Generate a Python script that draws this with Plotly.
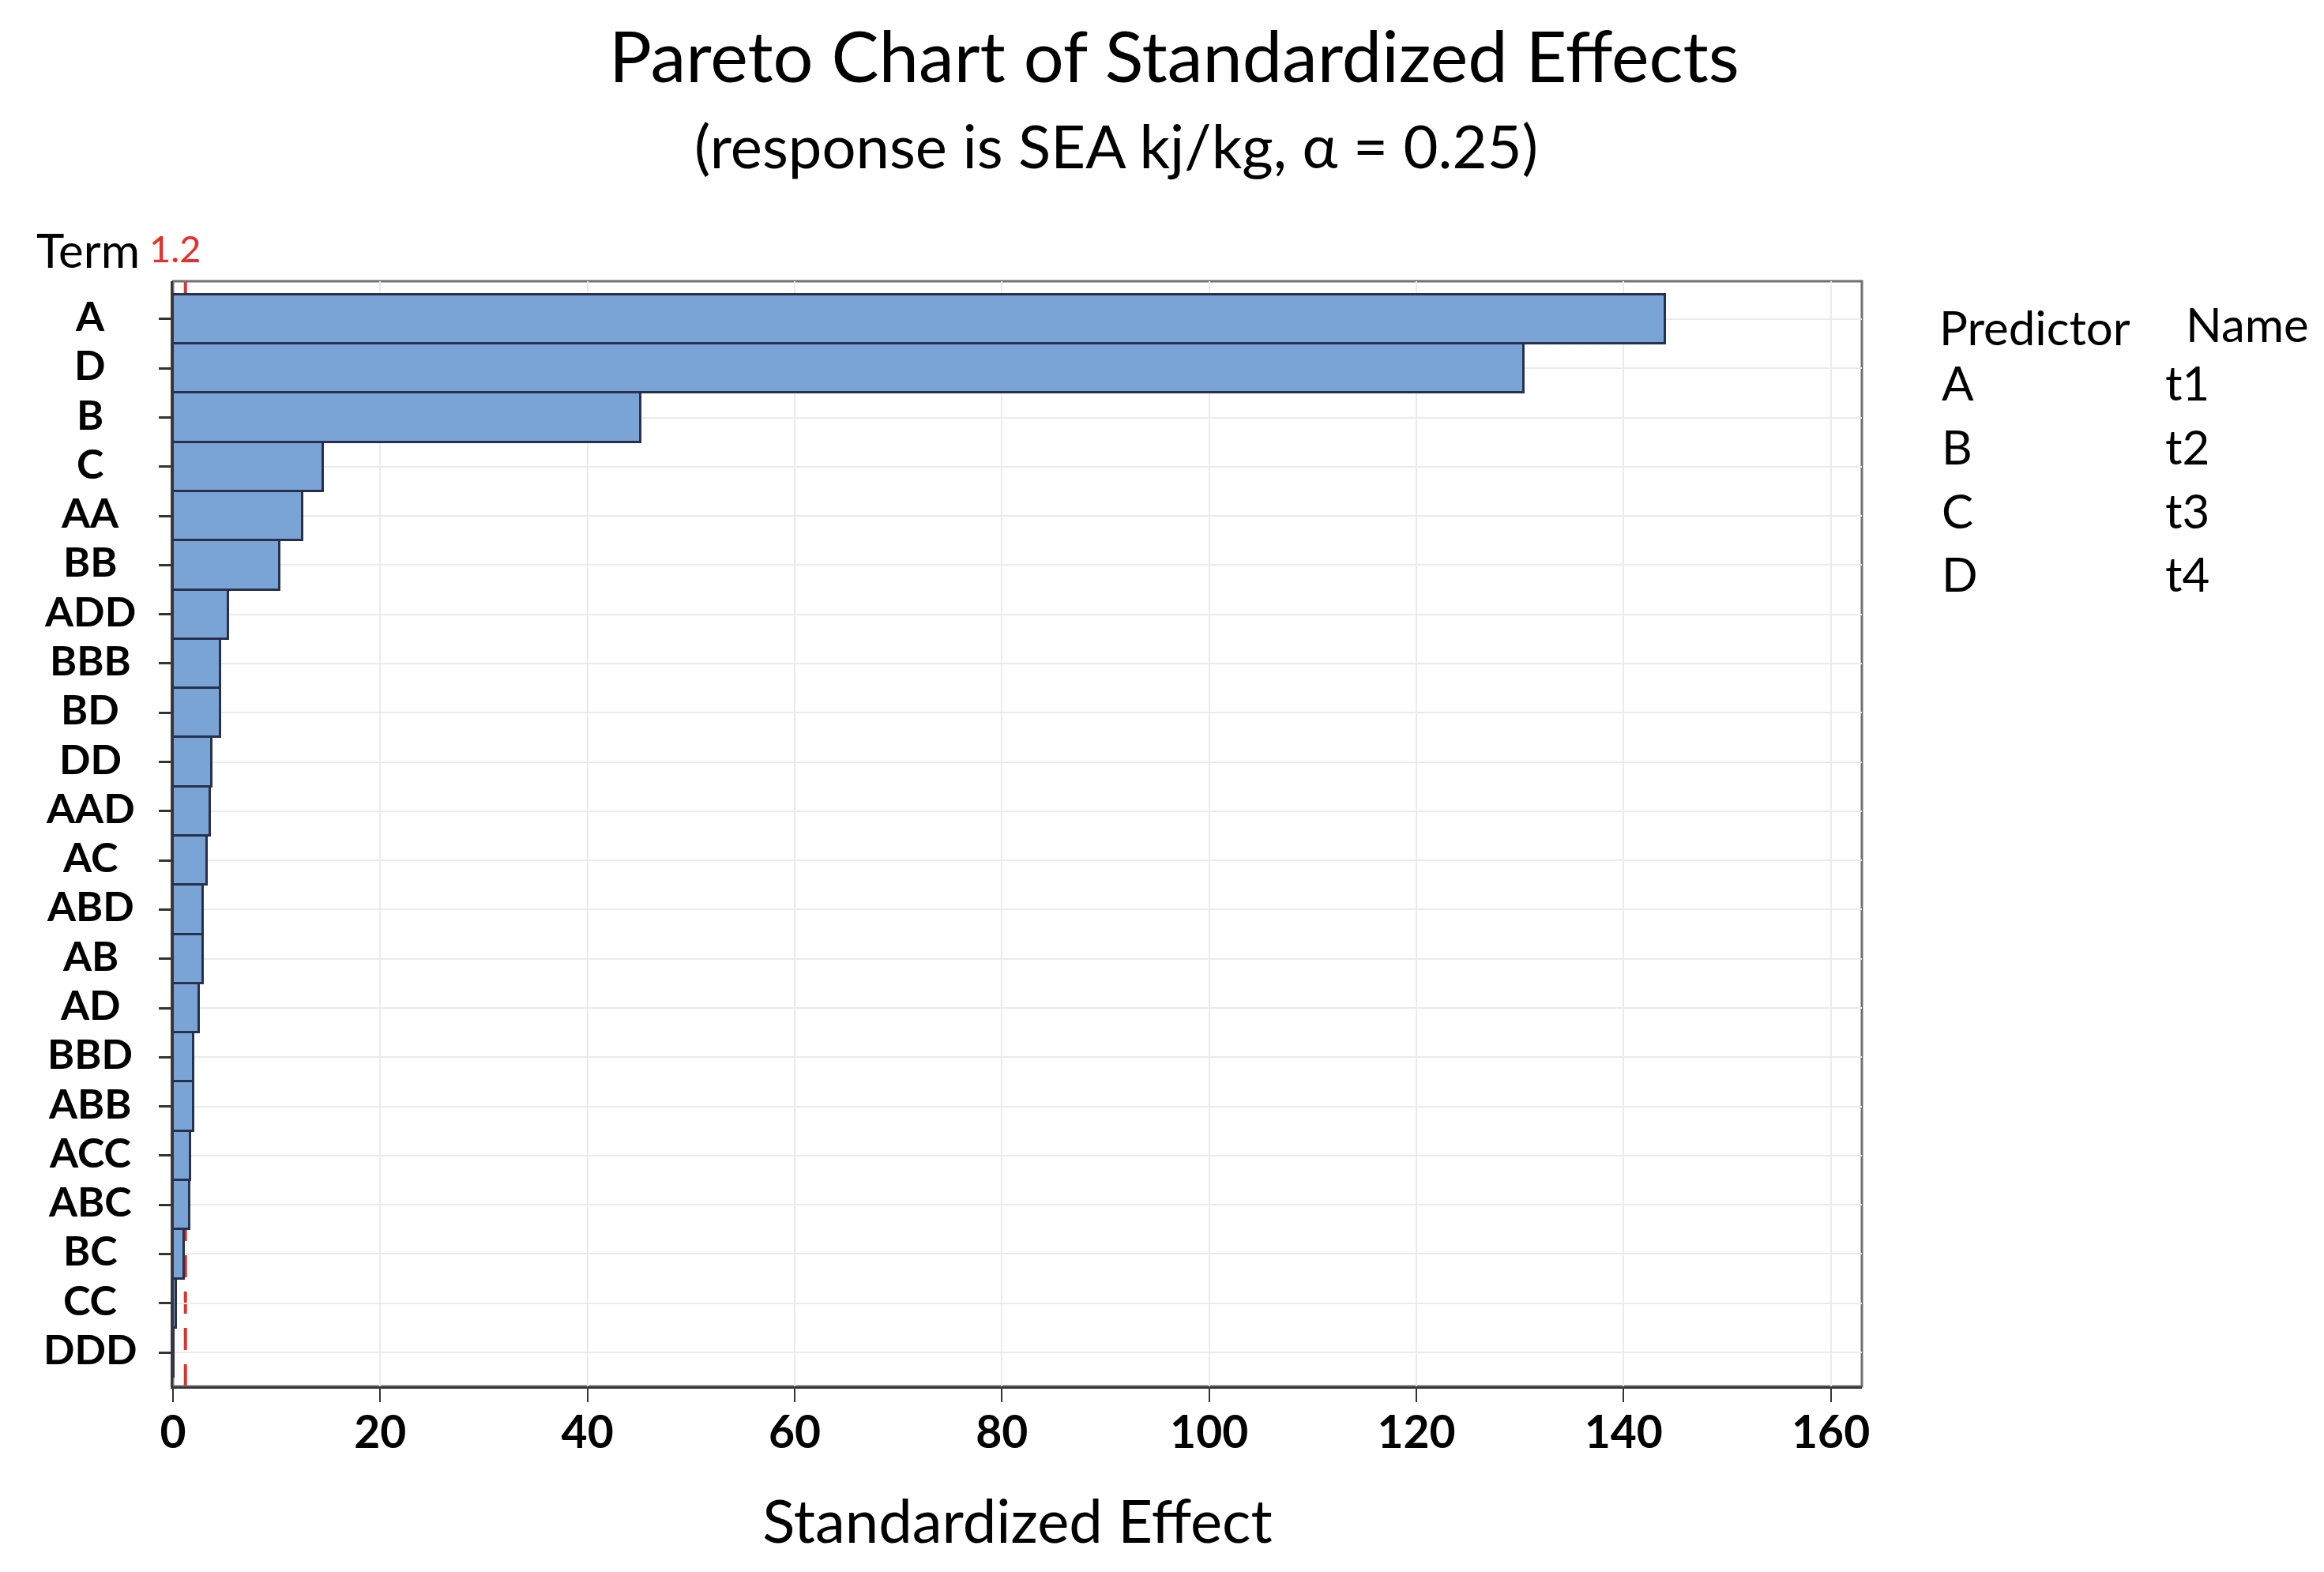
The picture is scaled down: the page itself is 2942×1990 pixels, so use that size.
import plotly.graph_objects as go

terms = ["A", "D", "B", "C", "AA", "BB", "ADD", "BBB", "BD", "DD", "AAD", "AC",
         "ABD", "AB", "AD", "BBD", "ABB", "ACC", "ABC", "BC", "CC", "DDD"]
effects = [144.0, 130.4, 45.1, 14.5, 12.5, 10.3, 5.3, 4.6, 4.6, 3.7, 3.6, 3.3,
           2.9, 2.9, 2.5, 2.0, 2.0, 1.7, 1.6, 1.1, 0.3, 0.1]
ref_value = 1.2
x_ticks = [0, 20, 40, 60, 80, 100, 120, 140, 160]
predictors = ["A", "B", "C", "D"]
names = ["t1", "t2", "t3", "t4"]

W, H = 2942, 1990
L, R, T, B = 211, 2349, 348, 1747
FONT = "Lato"


def px(x):
    return (x - L) / (R - L)


def py(y):
    return (B - y) / (B - T)


fig = go.Figure()
fig.add_trace(go.Bar(
    x=effects, y=terms, orientation="h",
    marker=dict(color="#7ba4d6", line=dict(color="#27314b", width=3)),
    showlegend=False,
))

# reference line at the critical value (drawn behind the bars)
fig.add_shape(type="line", xref="x", yref="paper", x0=ref_value, x1=ref_value,
              y0=0, y1=1, layer="between",
              line=dict(color="#e3302b", width=4, dash="28px,18px"))
# grey frame (top/right), left/bottom axis lines are drawn darker on top
fig.add_shape(type="rect", xref="paper", yref="paper", x0=0, x1=1, y0=0, y1=1,
              layer="between", line=dict(color="#707070", width=3))

annotations = []
# centered term labels
for t in terms:
    annotations.append(dict(x=px(106), xref="paper", y=t, yref="y", text=t, yshift=5,
                            showarrow=False, xanchor="center", yanchor="middle",
                            font=dict(family=FONT, size=52, color="black", weight="bold")))

annotations += [
    dict(x=px(1478), y=py(61), xref="paper", yref="paper", text="Pareto Chart of Standardized Effects",
         showarrow=False, xanchor="center", yanchor="middle", font=dict(family=FONT, size=90, color="black")),
    dict(x=px(1405), y=py(175), xref="paper", yref="paper", text="(response is SEA kj/kg, α = 0.25)",
         showarrow=False, xanchor="center", yanchor="middle", font=dict(family=FONT, size=76, color="black")),
    dict(x=px(36), y=py(308), xref="paper", yref="paper", text="Term",
         showarrow=False, xanchor="left", yanchor="middle", font=dict(family=FONT, size=60, color="black")),
    dict(x=ref_value, y=py(306), xref="x", yref="paper", text=str(ref_value), xshift=-13,
         showarrow=False, xanchor="center", yanchor="middle", font=dict(family=FONT, size=47, color="#e3302b")),
    dict(x=px(2445), y=py(406), xref="paper", yref="paper", text="Predictor",
         showarrow=False, xanchor="left", yanchor="middle", font=dict(family=FONT, size=60, color="black")),
    dict(x=px(2757), y=py(402), xref="paper", yref="paper", text="Name",
         showarrow=False, xanchor="left", yanchor="middle", font=dict(family=FONT, size=60, color="black")),
]
row_y = [476, 557, 638, 718]
for p, n, yy in zip(predictors, names, row_y):
    annotations.append(dict(x=px(2448), y=py(yy), xref="paper", yref="paper", text=p,
                            showarrow=False, xanchor="left", yanchor="middle",
                            font=dict(family=FONT, size=60, color="black")))
    annotations.append(dict(x=px(2731), y=py(yy), xref="paper", yref="paper", text=n,
                            showarrow=False, xanchor="left", yanchor="middle",
                            font=dict(family=FONT, size=60, color="black")))

fig.update_layout(
    width=W, height=H,
    margin=dict(l=L, r=W - R, t=T, b=H - B),
    paper_bgcolor="white", plot_bgcolor="white",
    bargap=0,
    annotations=annotations,
    font=dict(family=FONT, color="black"),
    xaxis=dict(
        range=[0, 163], tickvals=x_ticks, ticktext=[str(v) for v in x_ticks],
        showgrid=True, gridcolor="#ebebeb", gridwidth=2,
        showline=True, linecolor="#3a3a3a", linewidth=3,
        ticks="outside", ticklen=17, tickwidth=2, tickcolor="#333333",
        ticklabelstandoff=-10,
        tickfont=dict(family=FONT, size=57, color="black", weight="bold"),
        title=dict(text="Standardized Effect", font=dict(family=FONT, size=76, color="black"), standoff=56),
        zeroline=False,
    ),
    yaxis=dict(
        type="category", categoryorder="array", categoryarray=terms,
        range=[21.69, -0.77],
        showgrid=True, gridcolor="#ebebeb", gridwidth=2,
        showline=True, linecolor="#3a3a3a", linewidth=3,
        ticks="outside", ticklen=15, tickwidth=3, tickcolor="#333333",
        showticklabels=False,
    ),
)

fig.write_html("out.html")
